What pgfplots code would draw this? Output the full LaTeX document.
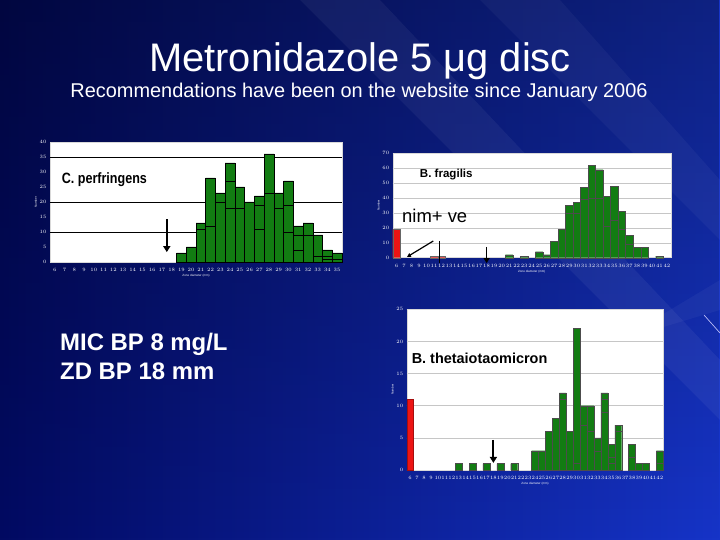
\documentclass[border=0pt]{standalone}
\usepackage{pgfplots}
\pgfplotsset{compat=1.18}
\usepackage{fontspec}
\setmainfont{Liberation Sans}
\usetikzlibrary{arrows.meta,fadings}

\definecolor{bargreen}{RGB}{18,124,18}
\definecolor{barred}{RGB}{236,20,20}
\definecolor{bgdark}{RGB}{2,10,98}
\definecolor{bglight}{RGB}{22,52,200}

\pgfplotsset{
  histo/.style={
    scale only axis, anchor=south west, clip=false,
    axis background/.style={fill=white},
    axis line style={draw=white!85!black},
    ybar, bar width=1, bar shift=0pt,
    ymin=0,
    tick style={draw=none},
    ticklabel style={text=white, font=\fontsize{3}{3}\selectfont},
    label style={text=white, font=\fontsize{3}{3}\selectfont},
    xtick pos=bottom, ytick pos=left,
    xticklabel style={yshift=1bp},
    xlabel={Zone diameter (mm)}, ylabel={Number},
    xlabel style={yshift=4bp}, ylabel style={yshift=-4bp},
  },
}

\begin{document}
\begin{tikzpicture}
\useasboundingbox (0,0) rectangle (720bp,540bp);
% background
\shade[left color=bgdark, right color=bglight] (0,0) rectangle (720bp,540bp);
\fill[black, opacity=0.35, path fading=south] (0,0) rectangle (720bp,540bp);
\fill[white, opacity=0.05] (300bp,540bp) -- (380bp,540bp) -- (720bp,180bp) -- (720bp,120bp) -- cycle;
\fill[white, opacity=0.04] (480bp,540bp) -- (560bp,540bp) -- (720bp,360bp) -- (720bp,300bp) -- cycle;
\fill[white, opacity=0.04] (620bp,200bp) -- (720bp,260bp) -- (720bp,230bp) -- cycle;
\draw[white!80!blue, line width=0.6bp] (704bp,225bp) -- (720bp,207bp);

% titles
\node[anchor=base, text=white, font=\fontsize{40}{44}\selectfont] at (360bp,468bp) {Metronidazole 5 μg disc};
\node[anchor=base, text=white, font=\fontsize{20}{24}\selectfont] at (359bp,442bp) {Recommendations have been on the website since January 2006};
\node[anchor=base west, text=white, font=\bfseries\fontsize{24}{28}\selectfont, inner sep=0pt] at (60bp,189bp) {MIC BP 8 mg/L};
\node[anchor=base west, text=white, font=\bfseries\fontsize{24}{28}\selectfont, inner sep=0pt] at (60bp,160bp) {ZD BP 18 mm};

% ---------------- C. perfringens ----------------
\begin{axis}[histo, at={(50bp,278bp)}, width=292bp, height=120bp,
  xmin=5.5, xmax=35.5, ymax=40, xtick={6,...,35}, ytick={0,5,...,40},
  extra y ticks={10,20,35}, extra y tick labels={},
  extra y tick style={grid=major, major grid style={black, line width=0.6bp}}]
\addplot[fill=bargreen, draw=black, line width=0.5bp] coordinates {
 (19,3) (20,5) (21,13) (22,28) (23,23) (24,33) (25,25) (26,20) (27,22)
 (28,36) (29,23) (30,27) (31,12) (32,13) (33,9) (34,4) (35,3)};
\addplot[fill=none, draw=black, line width=0.5bp] coordinates {
 (21,11) (22,12) (23,20) (24,18) (25,18) (27,11) (28,23) (29,18) (30,10)
 (31,4) (32,9) (33,2) (34,1) (35,1)};
\addplot[fill=none, draw=black, line width=0.5bp] coordinates {
 (24,27) (27,19) (30,19) (31,9) (34,2)};
\draw[-{Triangle[width=7bp,length=6bp]}, line width=2.2bp] (axis cs:17.5,14.3) -- (axis cs:17.5,3.3);
\node[anchor=base west, inner sep=0pt, font=\bfseries\fontsize{15}{16}\selectfont, xscale=0.84] at (axis cs:6.7,26) {C. perfringens};
\end{axis}

% ---------------- B. fragilis ----------------
\begin{axis}[histo, at={(392.7bp,282.3bp)}, width=278bp, height=104.4bp,
  xmin=5.5, xmax=42.5, ymax=70, xtick={6,...,42}, ytick={0,10,...,70},
  ymajorgrids, major grid style={gray!45, line width=0.5bp}]
\addplot[fill=barred, draw=black!60, line width=0.3bp] coordinates {(6,19) (11,1) (12,1)};
\addplot[fill=bargreen, draw=black!70, line width=0.3bp] coordinates {
 (21,2) (23,1) (25,4) (26,2) (27,11) (28,19) (29,35) (30,37) (31,47) (32,62)
 (33,59) (34,41) (35,48) (36,31) (37,15) (38,7) (39,7) (41,1)};
\addplot[fill=none, draw=black!70, line width=0.3bp] coordinates {
 (29,30) (30,30) (31,39) (32,40) (33,40) (34,21) (35,25) (36,19) (37,9)};
\draw[-{Triangle[width=6bp,length=5bp]}, line width=1.6bp] (axis cs:18,7.2) -- (axis cs:18,-3.6);
\draw[-{Triangle[width=4bp,length=4bp]}, line width=1.2bp] (axis cs:10.9,11.2) -- (axis cs:7.4,0.5);
\draw[line width=0.5bp] (axis cs:11.7,11.2) -- (axis cs:11.7,-3.6);
\node[anchor=base west, inner sep=0pt, font=\bfseries\fontsize{11.6}{12}\selectfont] at (axis cs:9.1,53.8) {B. fragilis};
\end{axis}
\node[anchor=base west, inner sep=0pt, font=\fontsize{18.5}{20}\selectfont] at (402bp,317bp) {nim+ ve};

% ---------------- B. thetaiotaomicron ----------------
\begin{axis}[histo, at={(406.7bp,70bp)}, width=256.6bp, height=160.7bp,
  xmin=5.5, xmax=42.5, ymax=25, xtick={6,...,42}, ytick={0,5,...,25},
  ymajorgrids, major grid style={gray!45, line width=0.5bp}]
\addplot[fill=barred, draw=barred!70!black, line width=0.3bp] coordinates {(6,11)};
\addplot[fill=bargreen, draw=black!70, line width=0.3bp] coordinates {
 (13,1) (15,1) (17,1) (19,1) (21,1) (24,3) (25,3) (26,6) (27,8) (28,12)
 (29,6) (30,22) (31,10) (32,10) (33,5) (34,12) (35,4) (36,7) (38,4)
 (39,1) (40,1) (42,3)};
\addplot[fill=none, draw=black!70, line width=0.3bp] coordinates {
 (28,11) (30,1) (31,7) (32,6) (33,3) (34,9) (35,1) (36,6) (38,2) (42,1)};
\addplot[fill=none, draw=black!70, line width=0.3bp] coordinates {(34,11) (35,2)};
\draw[-{Triangle[width=7bp,length=6bp]}, line width=2bp] (axis cs:18,4.7) -- (axis cs:18,1.1);
\node[anchor=base west, inner sep=0pt, font=\bfseries\fontsize{14.5}{15}\selectfont] at (axis cs:6.2,16.6) {B. thetaiotaomicron};
\end{axis}
\end{tikzpicture}
\end{document}
